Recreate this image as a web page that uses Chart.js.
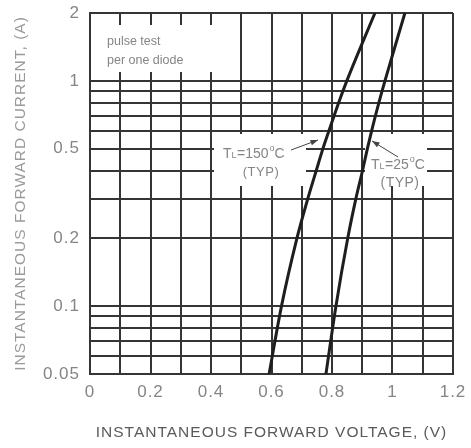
<!DOCTYPE html>
<html>
<head>
<meta charset="utf-8">
<script src="https://cdn.jsdelivr.net/npm/chart.js@4/dist/chart.umd.min.js"></script>
<style>
  html, body { margin: 0; padding: 0; background: #fff; }
  #wrap { width: 471px; height: 448px; }
</style>
</head>
<body>
<div id="wrap"><canvas id="vf-chart" width="471" height="448"></canvas></div>
<script>
// forward voltage (V) vs forward current (A)
const vf150 = [0.592, 0.633, 0.684, 0.720, 0.748, 0.770, 0.790, 0.822, 0.849, 0.942];
const if150 = [0.05, 0.1, 0.2, 0.3, 0.4, 0.5, 0.6, 0.8, 1, 2];
const vf25 = [0.780, 0.813, 0.852, 0.879, 0.901, 0.917, 0.931, 0.955, 0.975, 1.041];
const if25 = [0.05, 0.1, 0.2, 0.3, 0.4, 0.5, 0.6, 0.8, 1, 2];

// axis ticks
const yGrid = [0.05, 0.06, 0.07, 0.08, 0.09, 0.1, 0.2, 0.3, 0.4, 0.5, 0.6, 0.7, 0.8, 0.9, 1, 2];
const yLabels = [0.05, 0.1, 0.2, 0.5, 1, 2];
const xLabels = [0, 0.2, 0.4, 0.6, 0.8, 1, 1.2];

const gridColor = '#353535';
const curveColor = '#1e1e1e';
const textGray = '#858585';

function toPoints(xs, ys) {
    return xs.map((x, i) => ({ x: x, y: ys[i] }));
}

// white label boxes, annotations and arrows
const notesPlugin = {
    id: 'notes',
    beforeDraw(chart) {
        chart.ctx.letterSpacing = '1px';
    },
    beforeDatasetsDraw(chart) {
        const ctx = chart.ctx;
        ctx.save();
        ctx.fillStyle = '#fff';
        ctx.fillRect(92, 25, 120, 47);    // pulse test
        ctx.fillRect(214, 134, 92, 52);   // TL=150
        ctx.fillRect(365, 134, 62, 52);   // TL=25
        ctx.restore();
    },
    afterDatasetsDraw(chart) {
        const ctx = chart.ctx;
        ctx.save();
        ctx.letterSpacing = '0px';
        ctx.fillStyle = textGray;
        ctx.textBaseline = 'middle';
        ctx.font = '12.5px "Liberation Sans", Arial, sans-serif';
        ctx.fillText('pulse test', 107, 42);
        ctx.fillText('per one diode', 107, 61);

        drawTemp(ctx, 223, 154, '150');
        ctx.font = '13px "Liberation Sans", Arial, sans-serif';
        ctx.letterSpacing = '0.5px';
        ctx.textAlign = 'center';
        ctx.fillText('(TYP)', 261, 172);
        ctx.textAlign = 'left';
        ctx.letterSpacing = '0px';
        drawTemp(ctx, 371, 165, '25');
        ctx.textAlign = 'center';
        ctx.letterSpacing = '0.5px';
        ctx.fillText('(TYP)', 400, 183);
        ctx.restore();

        drawArrow(ctx, 291, 150, 318, 140);
        drawArrow(ctx, 398, 157, 372, 141);
    }
};

function drawTemp(ctx, x, y, t) {
    const big = '14px "Liberation Sans", Arial, sans-serif';
    const small = '9px "Liberation Sans", Arial, sans-serif';
    ctx.font = big;
    ctx.fillText('T', x, y);
    x += ctx.measureText('T').width;
    ctx.font = small;
    ctx.fillText('L', x, y + 2);
    x += ctx.measureText('L').width + 0.5;
    ctx.font = big;
    ctx.fillText('=' + t, x, y);
    x += ctx.measureText('=' + t).width + 1;
    ctx.font = small;
    ctx.fillText('o', x, y - 5);
    x += ctx.measureText('o').width;
    ctx.font = big;
    ctx.fillText('C', x, y);
}

function drawArrow(ctx, x1, y1, x2, y2) {
    const ang = Math.atan2(y2 - y1, x2 - x1);
    ctx.save();
    ctx.strokeStyle = '#444';
    ctx.fillStyle = '#444';
    ctx.lineWidth = 1;
    ctx.beginPath();
    ctx.moveTo(x1, y1);
    ctx.lineTo(x2, y2);
    ctx.stroke();
    ctx.beginPath();
    ctx.moveTo(x2, y2);
    ctx.lineTo(x2 - 8 * Math.cos(ang - 0.35), y2 - 8 * Math.sin(ang - 0.35));
    ctx.lineTo(x2 - 8 * Math.cos(ang + 0.35), y2 - 8 * Math.sin(ang + 0.35));
    ctx.closePath();
    ctx.fill();
    ctx.restore();
}

const curveStyle = {
    showLine: true,
    borderColor: curveColor,
    borderWidth: 3,
    pointRadius: 0,
    cubicInterpolationMode: 'monotone',
    fill: false
};

new Chart(document.getElementById('vf-chart'), {
    type: 'scatter',
    data: {
        datasets: [
            Object.assign({ label: 'TL=150°C', data: toPoints(vf150, if150) }, curveStyle),
            Object.assign({ label: 'TL=25°C', data: toPoints(vf25, if25) }, curveStyle)
        ]
    },
    options: {
        responsive: false,
        animation: false,
        layout: { padding: { left: 0, right: 18, top: 13, bottom: 0 } },
        plugins: {
            legend: { display: false },
            tooltip: { enabled: false }
        },
        scales: {
            x: {
                type: 'linear',
                min: 0,
                max: 1.2,
                afterFit: (scale) => {
                    scale.height = 74;
                    scale.paddingLeft = 0;
                    scale.paddingRight = 0;
                },
                ticks: {
                    stepSize: 0.1,
                    autoSkip: false,
                    maxRotation: 0,
                    padding: 8,
                    color: textGray,
                    font: { family: '"Liberation Sans", Arial, sans-serif', size: 17 },
                    callback: (v) => {
                        const r = Math.round(v * 10) / 10;
                        return xLabels.includes(r) ? String(r) : '';
                    }
                },
                grid: { color: gridColor, lineWidth: 2, drawTicks: false },
                border: { color: gridColor, width: 2 },
                title: {
                    display: true,
                    text: 'INSTANTANEOUS FORWARD VOLTAGE, (V)',
                    color: '#5a5a5a',
                    font: { family: '"Liberation Sans", Arial, sans-serif', size: 15.5 },
                    padding: { top: 0, bottom: 6 }
                }
            },
            y: {
                type: 'logarithmic',
                min: 0.05,
                max: 2,
                afterFit: (scale) => {
                    scale.width = 90;
                    scale.paddingTop = 0;
                    scale.paddingBottom = 0;
                },
                afterBuildTicks: (scale) => {
                    scale.ticks = yGrid.map(v => ({ value: v }));
                },
                ticks: {
                    autoSkip: false,
                    padding: 10,
                    color: textGray,
                    font: { family: '"Liberation Sans", Arial, sans-serif', size: 17 },
                    callback: (v) => yLabels.includes(v) ? String(v) : ''
                },
                grid: { color: gridColor, lineWidth: 2, drawTicks: false },
                border: { color: gridColor, width: 2 },
                title: {
                    display: true,
                    text: 'INSTANTANEOUS FORWARD CURRENT, (A)',
                    color: '#9a9a9a',
                    font: { family: '"Liberation Sans", Arial, sans-serif', size: 15.5 },
                    padding: { top: 11, bottom: 0 }
                }
            }
        }
    },
    plugins: [notesPlugin]
});
</script>
</body>
</html>
